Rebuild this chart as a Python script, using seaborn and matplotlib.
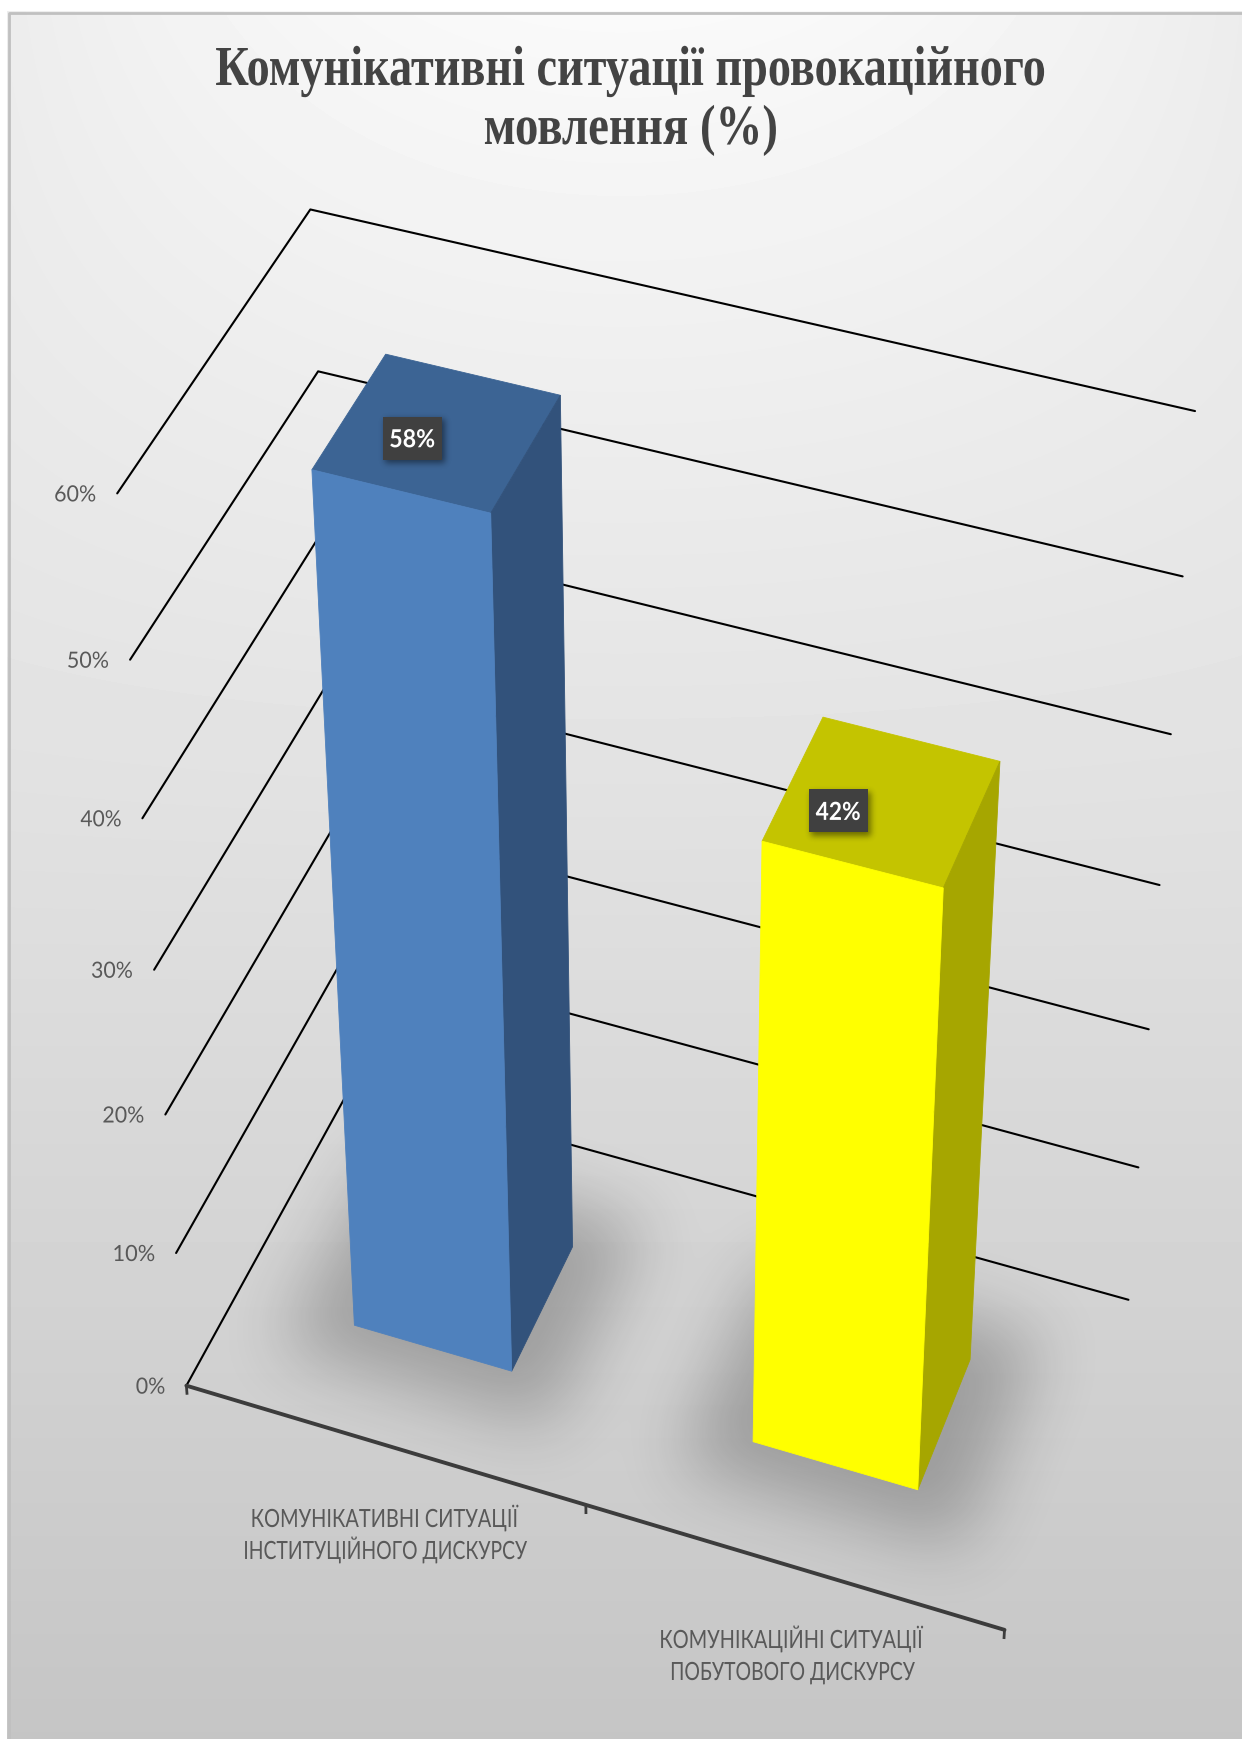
import numpy as np
import pandas as pd
import matplotlib
matplotlib.use("Agg")
import matplotlib.pyplot as plt
import seaborn as sns
from matplotlib.font_manager import FontProperties
from matplotlib.patches import Rectangle
from matplotlib.patheffects import AbstractPathEffect
from matplotlib.textpath import TextPath
from matplotlib.transforms import Affine2D
from PIL import Image, ImageDraw, ImageFilter

# ---- chart data ----
TITLE_LINES = ["Комунікативні ситуації провокаційного", "мовлення (%)"]
CATEGORY_LINES = [
    ["КОМУНІКАТИВНІ СИТУАЦІЇ", "ІНСТИТУЦІЙНОГО ДИСКУРСУ"],
    ["КОМУНІКАЦІЙНІ СИТУАЦІЇ", "ПОБУТОВОГО ДИСКУРСУ"],
]
VALUES = [58, 42]
VALUE_LABELS = ["58%", "42%"]
AXIS_TICKS = [0, 10, 20, 30, 40, 50, 60]
AXIS_TICK_LABELS = ["0%", "10%", "20%", "30%", "40%", "50%", "60%"]

# ---- styling ----
FRONT_COLORS = ["#4f81bd", "#ffff00"]
SIDE_COLORS = ["#32527b", "#a6a600"]
TOP_COLORS = ["#3c6494", "#c4c400"]
TITLE_COLOR = "#434343"
TEXT_COLOR = "#595959"
W, H = 1242, 1739
DPI = 100

# Bars occupy 0.4 of a category slot in both width and depth.
BAR_SIZE = 0.4
X_MAX = len(VALUES)

# Perspective camera calibration: model point (x, depth, value) -> pixel.
CAMERA_MODEL = np.array([
    (0, 0, 0), (0, 0, 10), (0, 0, 20), (0, 0, 30), (0, 0, 40), (0, 0, 50), (0, 0, 60),
    (2, 1, 0), (2, 1, 10), (2, 1, 20), (2, 1, 30), (2, 1, 40), (2, 1, 50), (2, 1, 60),
    (0, 1, 60), (0, 1, 50), (1, 0, 0), (2, 0, 0),
], dtype=float)
CAMERA_PIXELS = np.array([
    (187, 1386), (176, 1253), (165, 1114), (154, 970), (142, 818), (131, 660), (117, 493),
    (1128, 1300), (1139, 1167), (1149, 1029), (1159, 885), (1171, 734), (1183, 577), (1195, 411),
    (310, 210), (318, 371), (586, 1505), (1004, 1630),
], dtype=float)


def fit_camera(model, pixels):
    rows, rhs = [], []
    for (x, y, z), (u, v) in zip(model, pixels):
        rows.append([x, y, z, 1, 0, 0, 0, 0, -u * x, -u * y, -u * z])
        rhs.append(u)
        rows.append([0, 0, 0, 0, x, y, z, 1, -v * x, -v * y, -v * z])
        rhs.append(v)
    p, *_ = np.linalg.lstsq(np.array(rows), np.array(rhs), rcond=None)
    return np.append(p, 1.0).reshape(3, 4)


CAMERA = fit_camera(CAMERA_MODEL, CAMERA_PIXELS)


def project(x, y, z):
    """Map model coordinates to canvas pixels through the camera."""
    pts = np.atleast_2d(np.column_stack([np.atleast_1d(x), np.atleast_1d(y),
                                         np.atleast_1d(z), np.ones(np.size(x))]))
    q = pts @ CAMERA.T
    return q[:, 0] / q[:, 2], q[:, 1] / q[:, 2]


class VerticalStretch(AbstractPathEffect):
    """Stretch glyphs vertically about their baseline."""

    def __init__(self, factor):
        super().__init__()
        self.factor = factor

    def draw_path(self, renderer, gc, tpath, affine, rgbFace=None):
        renderer.draw_path(gc, tpath, Affine2D().scale(1, self.factor) + affine, rgbFace)


def fitted_text(ax, s, x, y, width, cap_height, family, weight="normal", color=TEXT_COLOR,
                ha="center", zorder=10):
    """Real text sized to a pixel width, with the glyph height adjusted to a cap height."""
    fp = FontProperties(family=family, weight=weight, size=100)
    measured = TextPath((0, 0), s, prop=fp).get_extents().width
    cap = TextPath((0, 0), "Н", prop=fp).get_extents().height
    em_px = 100 * width / measured
    stretch = cap_height / (cap * em_px / 100)
    t = ax.text(x, y, s, fontproperties=FontProperties(family=family, weight=weight,
                                                       size=em_px * 72 / DPI),
                color=color, ha=ha, va="baseline", zorder=zorder)
    t.set_path_effects([VerticalStretch(stretch)])
    return t


def blurred_layer(polygons, radius, alpha):
    """RGBA black layer made from filled polygons softened by a Gaussian blur."""
    mask = Image.new("L", (W, H), 0)
    draw = ImageDraw.Draw(mask)
    for px, py in polygons:
        draw.polygon(list(zip(np.asarray(px).tolist(), np.asarray(py).tolist())), fill=255)
    mask = mask.filter(ImageFilter.GaussianBlur(radius))
    layer = np.zeros((H, W, 4))
    layer[..., 3] = np.asarray(mask, dtype=float) / 255 * alpha
    return layer


sns.set_theme(style="white")
AXIS_FONT = "Lato"
SERIF = "Liberation Serif"

fig = plt.figure(figsize=(W / DPI, H / DPI), dpi=DPI, facecolor="white")
ax = fig.add_axes([0, 0, 1, 1])

# Background: light at the top centre, falling to mid grey at the foot.
yy, xx = np.mgrid[0:H, 0:W]
fade = np.clip(1 - yy / (0.6 * H), 0, 1) ** 2
shade = 250 - 53 * (yy / H) - 14 * ((xx - W * 0.5) / (W * 0.5)) ** 2 * fade
ax.imshow(np.clip(shade, 0, 255) / 255, cmap="gray", vmin=0, vmax=1, extent=(0, W, H, 0),
          aspect="auto", zorder=0, interpolation="bilinear")
ax.fill_between([0, W], 0, 11, color="white", zorder=1, lw=0)
ax.fill_betweenx([0, H], 0, 7, color="white", zorder=1, lw=0)
ax.plot([8.5, 8.5, W], [H, 12.5, 12.5], color="#c0c0c0", lw=2.0, zorder=1.2, solid_capstyle="butt")

# Soft floor shadows under both bars.
shadow_polys = []
for i in range(len(VALUES)):
    cx = i + 0.5
    sx0, sx1 = cx - BAR_SIZE / 2 - 0.14, cx + BAR_SIZE / 2 + 0.14
    shadow_polys.append(project([sx0, sx1, sx1, sx0], [0.18, 0.18, 0.82, 0.82], [0, 0, 0, 0]))
ax.imshow(blurred_layer(shadow_polys, 33, 0.24), extent=(0, W, H, 0), aspect="auto",
          zorder=2, interpolation="bilinear")

# Wall and floor grid lines: each level runs front-left, back-left, back-right.
grid_rows = []
for level in AXIS_TICKS:
    for x, depth in [(0, 0), (0, 1), (X_MAX, 1)]:
        u, v = project(x, depth, level)
        grid_rows.append({"level": level, "u": u[0], "v": v[0]})
grid = pd.DataFrame(grid_rows)
sns.lineplot(data=grid, x="u", y="v", units="level", estimator=None, sort=False,
             color="black", lw=1.5, ax=ax, zorder=3, legend=False)

# Category axis along the front of the floor, with vertical ticks.
u, v = project([0, X_MAX], [0, 0], [0, 0])
floor = pd.DataFrame({"u": u, "v": v})
sns.lineplot(data=floor, x="u", y="v", estimator=None, sort=False, color="#3c3c3c", lw=2.8,
             ax=ax, zorder=3.5, legend=False)
for x in range(X_MAX + 1):
    tu, tv = project([x, x], [0, 0], [0, -0.7])
    ax.plot(tu, tv, color="#3c3c3c", lw=2.0, zorder=3.5, solid_capstyle="butt")

# Bars, drawn as three visible faces of a box.
for i, value in enumerate(VALUES):
    cx = i + 0.5
    x0, x1 = cx - BAR_SIZE / 2, cx + BAR_SIZE / 2
    y0, y1 = 0.5 - BAR_SIZE / 2, 0.5 + BAR_SIZE / 2
    faces = [
        (TOP_COLORS[i], [x0, x1, x1, x0], [y0, y0, y1, y1], [value] * 4),
        (SIDE_COLORS[i], [x1, x1, x1, x1], [y0, y1, y1, y0], [0, 0, value, value]),
        (FRONT_COLORS[i], [x0, x1, x1, x0], [y0, y0, y0, y0], [0, 0, value, value]),
    ]
    for color, fx, fy, fz in faces:
        u, v = project(fx, fy, fz)
        ax.fill(u, v, facecolor=color, edgecolor=color, lw=0.6, zorder=5)

# Value callouts sit on the top face of each bar, on dark plates with a soft shadow.
LABEL_X_SHIFT = [-0.042, -0.078]
LABEL_DEPTH = [0.464, 0.44]
PLATE_W, PLATE_H = 59, 43
label_centres = [project(i + 0.5 + LABEL_X_SHIFT[i], LABEL_DEPTH[i], value)
                 for i, value in enumerate(VALUES)]
plate_shadows = []
for u, v in label_centres:
    l, r = u[0] - PLATE_W / 2 + 3, u[0] + PLATE_W / 2 + 3
    t, b = v[0] - PLATE_H / 2 + 3, v[0] + PLATE_H / 2 + 3
    plate_shadows.append(([l, r, r, l], [t, t, b, b]))
ax.imshow(blurred_layer(plate_shadows, 3, 0.45), extent=(0, W, H, 0), aspect="auto",
          zorder=6, interpolation="bilinear")
for i, (u, v) in enumerate(label_centres):
    ax.add_patch(Rectangle((u[0] - PLATE_W / 2, v[0] - PLATE_H / 2), PLATE_W, PLATE_H,
                           facecolor="#404040", edgecolor="none", zorder=7))
    fitted_text(ax, VALUE_LABELS[i], u[0], v[0] + 9, 44, 18, AXIS_FONT, weight="bold",
                color="white", zorder=8)

# Value-axis labels to the left of each grid line's front end.
for tick, label in zip(AXIS_TICKS, AXIS_TICK_LABELS):
    u, v = project(0, 0, tick)
    fitted_text(ax, label, u[0] - 21, v[0] + 8, 40 if tick else 28, 16, AXIS_FONT, ha="right")

# Category labels, two lines each.
CATEGORY_CENTERS = [385, 792]
CATEGORY_BASELINES = [[1527, 1559], [1648, 1680]]
CATEGORY_WIDTHS = [[266, 282], [262, 243]]
for c, lines in enumerate(CATEGORY_LINES):
    for j, line in enumerate(lines):
        fitted_text(ax, line, CATEGORY_CENTERS[c], CATEGORY_BASELINES[c][j],
                    CATEGORY_WIDTHS[c][j], 18, AXIS_FONT)

# Two-line heading.
fitted_text(ax, TITLE_LINES[0], 631, 85, 828, 37, SERIF, weight="bold", color=TITLE_COLOR)
fitted_text(ax, TITLE_LINES[1], 631, 144, 291, 37, SERIF, weight="bold", color=TITLE_COLOR)

ax.set_xlim(0, W)
ax.set_ylim(H, 0)
ax.axis("off")
fig.savefig("out.png", dpi=DPI, facecolor="white")
